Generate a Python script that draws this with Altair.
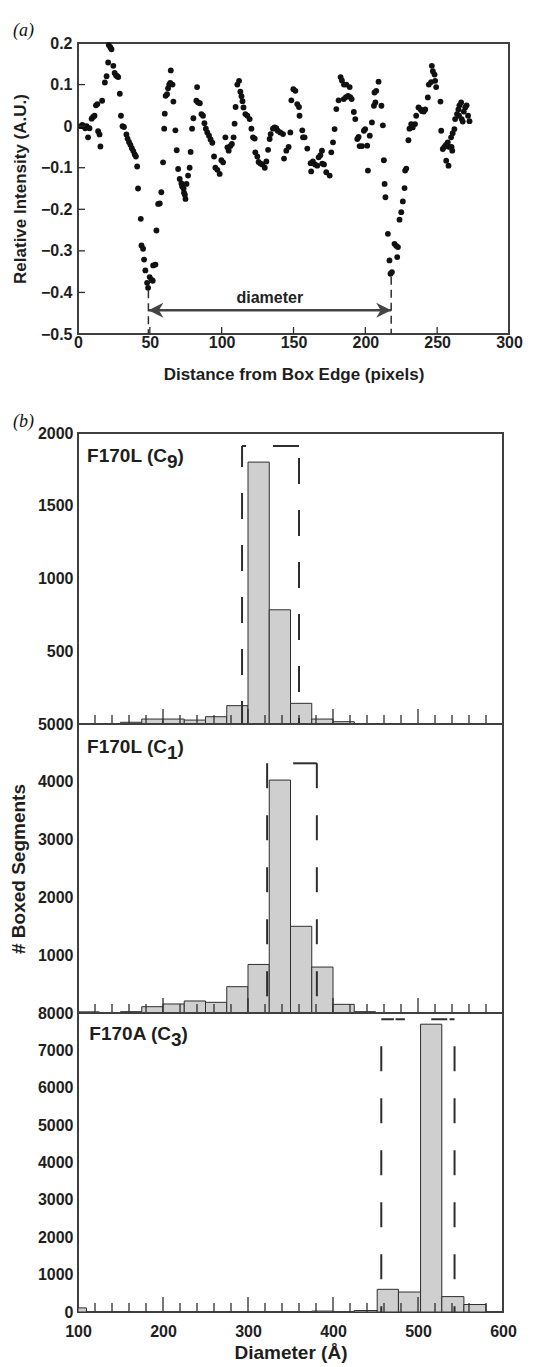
import altair as alt
import pandas as pd

# ---------------- panel (a) data ----------------
DIST = [
    2, 3, 4, 5, 6, 7, 8, 9.5, 10.5, 11.5,
    12.5, 13.5, 14, 15, 15.6, 16.8, 18.7, 19.9, 21, 21.4,
    22.5, 23.3, 24.6, 25.5, 26.5, 27.3, 28, 29.1, 29.9, 31,
    32, 33.7, 34.5, 35.5, 36.5, 37.5, 38.5, 39.5, 40.3, 41.2,
    41.8, 43.7, 44.2, 45.3, 46, 46.9, 48.1, 48.8, 49.9, 51.3,
    52, 52.3, 53.9, 54.6, 55.8, 56.9, 58, 59.2, 60, 60.4,
    61, 62, 62.7, 63.5, 64.2, 64.6, 65.8, 66.4, 67.8, 68.7,
    69.7, 70.8, 72, 72.5, 73.5, 73.8, 74.4, 74.8, 75.5, 76.6,
    77.7, 78.4, 79.4, 80.3, 82.4, 82.9, 83.6, 84.8, 85.9, 87,
    88, 89, 90, 91.2, 92.3, 93.5, 94.7, 95.6, 97, 98.6,
    99.8, 101, 102.6, 104, 104.9, 106, 107.1, 108.3, 109, 109.7,
    110.9, 112.1, 113, 113.8, 114.5, 115.2, 116.5, 117.9, 119.5, 120.7,
    121.8, 123, 123.4, 124.8, 125.7, 127, 128.3, 130, 131.1, 132.3,
    133.4, 134.1, 135.7, 136.8, 138, 139, 140.8, 142.7, 143.4, 145,
    146.6, 147.8, 148.5, 149.9, 151.3, 152.6, 153.8, 154.2, 156.1, 156.6,
    157.7, 159.6, 161.9, 162.3, 163.5, 165, 166.5, 167.5, 168.7, 169.8,
    170, 171.2, 172.8, 175.2, 176.3, 177.5, 178.6, 179.8, 181.4, 182.8,
    183.7, 185.1, 186.8, 185, 186.5, 188, 189.1, 189.5, 190.5, 192,
    193, 194.4, 195.3, 196, 197.7, 199, 199.9, 201.3, 201.8, 203.1,
    204.6, 206, 207, 206.4, 207.6, 209.2, 211.2, 212.2, 212.9, 213.4,
    214, 215.7, 216.8, 217.5, 218.5, 220.3, 221.5, 222.7, 222.2, 223.8,
    225, 226.1, 227.3, 227.7, 228.5, 230, 230.7, 231.9, 233, 234.6,
    235.4, 237, 238.5, 239.5, 240.7, 241.7, 243.5, 244.2, 245.8, 246.3,
    247, 248.2, 248.6, 249.3, 252.3, 252.8, 253.9, 255, 256.1, 257.4,
    256.3, 257.9, 258.5, 260, 260.5, 259.7, 260.8, 262, 262.5, 263.8,
    264.8, 265.5, 266.7, 265.2, 267.1, 267.8, 268.5, 269.5, 270.5, 271.5,
    272.5,
]
INTENSITY = [
    0.000, 0.003, 0.000, -0.005, 0.000, -0.027, -0.005, 0.018, 0.022, 0.025,
    0.050, 0.053, -0.012, -0.020, -0.049, 0.061, 0.105, 0.120, 0.153, 0.195,
    0.190, 0.185, 0.145, 0.128, 0.122, 0.120, 0.118, 0.078, 0.025, 0.000,
    -0.002, -0.020, -0.030, -0.038, -0.045, -0.053, -0.060, -0.068, -0.073, -0.097,
    -0.150, -0.223, -0.287, -0.295, -0.321, -0.347, -0.377, -0.389, -0.363, -0.370,
    -0.372, -0.335, -0.333, -0.251, -0.187, -0.186, -0.159, -0.087, -0.006, 0.030,
    0.073, 0.077, 0.091, 0.100, 0.104, 0.134, 0.100, 0.059, -0.010, -0.058,
    -0.103, -0.127, -0.138, -0.145, -0.150, -0.160, -0.165, -0.175, -0.139, -0.119,
    -0.100, -0.062, -0.006, 0.019, 0.061, 0.094, 0.057, 0.055, 0.029, 0.025,
    0.007, -0.006, -0.015, -0.023, -0.032, -0.040, -0.073, -0.100, -0.105, -0.115,
    -0.082, -0.087, -0.027, -0.051, -0.059, -0.048, -0.043, -0.027, 0.006, 0.046,
    0.100, 0.109, 0.083, 0.072, 0.060, 0.045, 0.029, 0.025, 0.017, -0.006,
    -0.027, -0.030, -0.063, -0.073, -0.086, -0.090, -0.092, -0.100, -0.085, -0.057,
    -0.031, -0.019, -0.006, -0.003, -0.005, -0.011, -0.015, -0.019, -0.078, -0.059,
    -0.050, -0.015, 0.062, 0.089, 0.085, 0.053, 0.046, 0.025, -0.010, -0.027,
    -0.027, -0.054, -0.089, -0.109, -0.085, -0.092, -0.095, -0.075, -0.070, -0.059,
    -0.090, -0.092, -0.111, -0.119, -0.063, -0.039, -0.007, 0.041, 0.062, 0.118,
    0.110, 0.100, 0.100, 0.065, 0.070, 0.073, 0.094, 0.070, 0.065, 0.034,
    0.017, -0.031, -0.026, -0.048, -0.048, -0.011, -0.007, -0.047, -0.107, -0.023,
    0.009, 0.049, 0.057, 0.081, 0.085, 0.107, 0.049, 0.002, -0.082, -0.139,
    -0.171, -0.259, -0.323, -0.355, -0.351, -0.283, -0.288, -0.291, -0.315, -0.225,
    -0.207, -0.181, -0.149, -0.107, -0.102, -0.034, -0.006, 0.005, -0.003, 0.005,
    0.025, 0.045, 0.040, 0.036, 0.035, 0.040, 0.069, 0.100, 0.106, 0.145,
    0.132, 0.124, 0.109, 0.094, 0.059, -0.011, -0.055, -0.050, -0.045, -0.039,
    -0.083, -0.095, -0.050, -0.050, -0.059, -0.027, -0.017, -0.007, 0.017, 0.029,
    0.040, 0.050, 0.057, 0.025, 0.017, 0.011, 0.035, 0.045, 0.050, 0.025,
    0.012,
]
A_X_TICKS = [0, 50, 100, 150, 200, 250, 300]
A_Y_TICKS = [-0.5, -0.4, -0.3, -0.2, -0.1, 0.0, 0.1, 0.2]
A_X_INNER = [50, 100, 150, 200, 250]
A_Y_INNER = [-0.4, -0.3, -0.2, -0.1, 0.0, 0.1]
DIAMETER_EDGES = [49, 218]
DIAMETER_DROP_TOP = [-0.395, -0.362]
ARROW_Y = [-0.443]
DIAMETER_TEXT = ["diameter"]

# ---------------- panel (b) data ----------------
B_X_TICKS = [100, 200, 300, 400, 500, 600]
B_MINOR = [120, 140, 160, 180, 220, 240, 260, 280, 320, 340, 360, 380,
           420, 440, 460, 480, 520, 540, 560, 580]
B_MAJOR = [200, 300, 400, 500]

C9_START = [150, 175, 200, 225, 250, 275, 300, 325, 350, 375, 400]
C9_END = [175, 200, 225, 250, 275, 300, 325, 350, 375, 400, 425]
C9_COUNT = [12, 34, 34, 27, 50, 126, 1800, 785, 142, 34, 16]
C9_BOX = [293, 360, 1911]

C1_START = [100, 150, 175, 200, 225, 250, 275, 300, 325, 350, 375, 400, 425]
C1_END = [125, 175, 200, 225, 250, 275, 300, 325, 350, 375, 400, 425, 450]
C1_COUNT = [20, 23, 109, 156, 208, 185, 455, 840, 4030, 1500, 795, 150, 23]
C1_BOX = [322.5, 381, 4320]

C3_START = [100, 375, 425, 452, 477, 503, 528, 554]
C3_END = [110, 400, 452, 477, 503, 528, 554, 580]
C3_COUNT = [110, 25, 40, 607, 535, 7700, 412, 200]
C3_BOX = [456.8, 543, 7832]

LABEL_MAIN = ["F170L (C", "F170L (C", "F170A (C"]
LABEL_SUB = ["9", "1", "3"]

# ---------------- styles ----------------
FONT = "Liberation Sans"
INK = "#2e2e2e"
BAR_FILL = "#cfcfcf"

# ================= panel (a) =================
WA, HA = 431, 291
xa_scale = alt.Scale(domain=[0, 300], nice=False, zero=False)
ya_scale = alt.Scale(domain=[-0.5, 0.2], nice=False, zero=False)


def XA():
    return alt.X("d:Q", scale=xa_scale,
                 axis=alt.Axis(values=A_X_TICKS, title="Distance from Box Edge (pixels)",
                               labelFlush=False, labelPadding=0, titlePadding=16,
                               titleFontSize=17))


def YA():
    return alt.Y("i:Q", scale=ya_scale,
                 axis=alt.Axis(values=A_Y_TICKS, title="Relative Intensity (A.U.)",
                               labelExpr="datum.value == 0 ? '0' : format(datum.value, '.1f')",
                               labelPadding=6, titlePadding=11, titleFontSize=17))


df_a = pd.DataFrame({"d": DIST, "i": INTENSITY})
pts = alt.Chart(df_a).mark_circle(size=34, color="#111111", opacity=1).encode(x=XA(), y=YA())

xt = alt.Chart(pd.DataFrame({"d": A_X_INNER})).mark_rule(color=INK, strokeWidth=1.3).encode(
    x=XA(), y=alt.value(HA), y2=alt.value(HA - 7))
yt = alt.Chart(pd.DataFrame({"i": A_Y_INNER})).mark_rule(color=INK, strokeWidth=1.3).encode(
    y=YA(), x=alt.value(0), x2=alt.value(7))

drops = alt.Chart(pd.DataFrame({"d": DIAMETER_EDGES, "i": DIAMETER_DROP_TOP})).mark_rule(
    color=INK, strokeWidth=1.5, strokeDash=[8, 5]).encode(x=XA(), y=YA(), y2=alt.datum(-0.5))

arrow_df = pd.DataFrame({"d": [DIAMETER_EDGES[0]], "e": [DIAMETER_EDGES[1]], "i": ARROW_Y})
shaft = alt.Chart(arrow_df).mark_rule(color="#444444", strokeWidth=2.5).encode(
    x=XA(), x2="e:Q", y=YA())
head_l = alt.Chart(pd.DataFrame({"d": [DIAMETER_EDGES[0]], "i": ARROW_Y})).mark_point(
    shape="M0,0L2,-1L1.4,0L2,1Z", size=225, filled=True, color="#444444", opacity=1, strokeWidth=0
).encode(x=XA(), y=YA())
head_r = alt.Chart(pd.DataFrame({"d": [DIAMETER_EDGES[1]], "i": ARROW_Y})).mark_point(
    shape="M0,0L-2,-1L-1.4,0L-2,1Z", size=225, filled=True, color="#444444", opacity=1, strokeWidth=0
).encode(x=XA(), y=YA())
diam_txt = alt.Chart(pd.DataFrame({"d": [(DIAMETER_EDGES[0] + DIAMETER_EDGES[1]) / 2],
                                   "i": ARROW_Y, "t": DIAMETER_TEXT})).mark_text(
    font=FONT, fontSize=16, fontWeight="bold", color="#222222", baseline="middle", dy=-12
).encode(x=XA(), y=YA(), text="t:N")

top = alt.layer(pts, xt, yt, drops, shaft, head_l, head_r, diam_txt).properties(
    width=WA, height=HA,
    title=alt.TitleParams(text="(a)", anchor="start", frame="group", dx=-65, offset=-5,
                          font="Liberation Serif", fontStyle="italic", fontWeight="normal",
                          fontSize=18, color="#111111"))

# ================= panel (b) =================
WB = 425
xb_scale = alt.Scale(domain=[100, 600], nice=False, zero=False)


def XB(show):
    if show:
        return alt.X("s:Q", scale=xb_scale,
                     axis=alt.Axis(values=B_X_TICKS, title="Diameter (Å)", format="d",
                                   labelFlush=False, labelPadding=11, titlePadding=4,
                                   titleFontSize=19))
    return alt.X("s:Q", scale=xb_scale, axis=None)


def YB(ymax, ticks, title):
    if title:
        ax = alt.Axis(values=ticks, title=title, format="d", labelPadding=5, titlePadding=9,
                      titleFontSize=19)
    else:
        ax = alt.Axis(values=ticks, title=None, format="d", labelPadding=5)
    return alt.Y("c:Q", scale=alt.Scale(domain=[0, ymax], nice=False, zero=False), axis=ax)


def panel(start, end, count, box, dashes, ymax, yticks, ytitle, show_x, height,
          main, sub, main_end, base_y, title=None):
    X = XB(show_x)
    Y = YB(ymax, yticks, ytitle)
    bars = alt.Chart(pd.DataFrame({"s": start, "e": end, "c": count})).mark_rect(
        fill=BAR_FILL, stroke=INK, strokeWidth=1).encode(x=X, x2="e:Q", y=Y, y2=alt.datum(0))
    L, R, T = box
    left = alt.Chart(pd.DataFrame({"s": [L], "c": [T]})).mark_rule(
        color=INK, strokeWidth=2, strokeDash=dashes[0][0], strokeDashOffset=dashes[0][1]
    ).encode(x=X, y=Y, y2=alt.datum(0))
    right = alt.Chart(pd.DataFrame({"s": [R], "c": [T]})).mark_rule(
        color=INK, strokeWidth=2, strokeDash=dashes[1][0], strokeDashOffset=dashes[1][1]
    ).encode(x=X, y=Y, y2=alt.datum(0))
    topl = alt.Chart(pd.DataFrame({"s": [L], "e": [R], "c": [T]})).mark_rule(
        color=INK, strokeWidth=2, strokeDash=dashes[2][0], strokeDashOffset=dashes[2][1]
    ).encode(x=X, x2="e:Q", y=Y)
    minor = alt.Chart(pd.DataFrame({"s": B_MINOR})).mark_rule(color=INK, strokeWidth=1.3).encode(
        x=X, y=alt.value(height), y2=alt.value(height - 9))
    major = alt.Chart(pd.DataFrame({"s": B_MAJOR})).mark_rule(color=INK, strokeWidth=1.3).encode(
        x=X, y=alt.value(height), y2=alt.value(height - 15))
    tstyle = dict(font=FONT, fontSize=19, fontWeight="bold", color="#1e1e1e", baseline="alphabetic")
    t1 = alt.Chart(pd.DataFrame({"t": [main]})).mark_text(align="right", **tstyle).encode(
        x=alt.value(main_end), y=alt.value(base_y), text="t:N")
    t2 = alt.Chart(pd.DataFrame({"t": [sub]})).mark_text(align="left", dy=6, **tstyle).encode(
        x=alt.value(main_end), y=alt.value(base_y), text="t:N")
    t3 = alt.Chart(pd.DataFrame({"t": [")"]})).mark_text(align="left", **tstyle).encode(
        x=alt.value(main_end + 10.6), y=alt.value(base_y), text="t:N")
    ch = alt.layer(bars, left, right, topl, minor, major, t1, t2, t3)
    if title is not None:
        ch = ch.properties(width=WB, height=height, title=title)
    else:
        ch = ch.properties(width=WB, height=height)
    return ch


b_title = alt.TitleParams(text="(b)", anchor="start", frame="group", dx=-65, offset=-6,
                          font="Liberation Serif", fontStyle="italic", fontWeight="normal",
                          fontSize=18, color="#111111")

p1 = panel(C9_START, C9_END, C9_COUNT, C9_BOX,
           [([26, 26], 5), ([26, 26], 40), ([4, 27, 26, 10], 0)],
           2000, [500, 1000, 1500, 2000], None, False, 291,
           LABEL_MAIN[0], LABEL_SUB[0], 89, 29, title=b_title)
p2 = panel(C1_START, C1_END, C1_COUNT, C1_BOX,
           [([25, 27], 0), ([25, 27], 0), ([24, 26], 24)],
           5000, [1000, 2000, 3000, 4000, 5000], "# Boxed Segments", False, 289,
           LABEL_MAIN[1], LABEL_SUB[1], 89, 29)
p3 = panel(C3_START, C3_END, C3_COUNT, C3_BOX,
           [([25, 27], 25), ([25, 27], 25), ([12.6, 1.7, 9.3, 26.4, 16, 2.3, 6, 40], 0)],
           8000, [0, 1000, 2000, 3000, 4000, 5000, 6000, 7000, 8000], None, True, 299,
           LABEL_MAIN[2], LABEL_SUB[2], 93, 27)

stack = alt.vconcat(p1, p2, p3, spacing=0, bounds="flush")

chart = alt.vconcat(top, stack, spacing=29).properties(
    padding={"left": 0, "top": 13, "right": 0, "bottom": 0}
).configure_view(
    stroke="#3f3f3f", strokeWidth=2
).configure_axis(
    labelFont=FONT, labelFontSize=16, labelFontWeight="bold", labelColor="#1e1e1e",
    titleFont=FONT, titleFontSize=15, titleFontWeight="bold", titleColor="#1e1e1e",
    ticks=False, domain=False, grid=False
)

chart.save("out.html", embed_options={"renderer": "svg", "actions": False})
